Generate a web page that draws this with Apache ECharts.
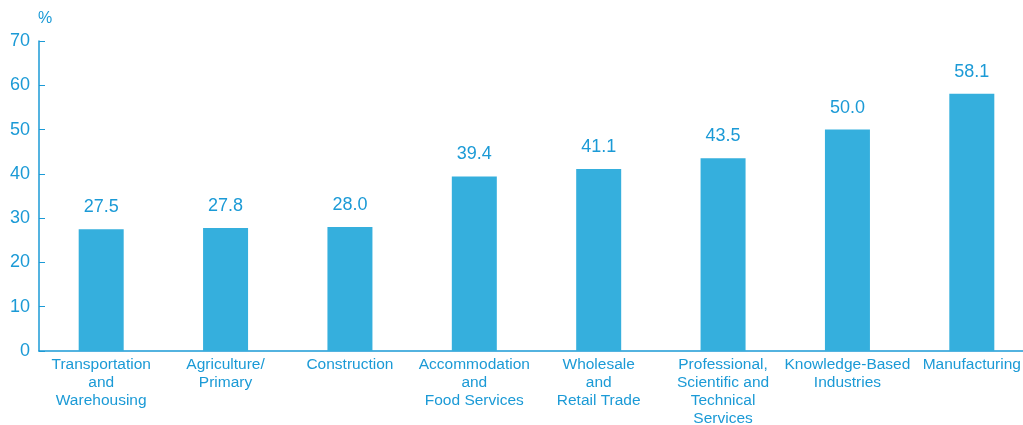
<!DOCTYPE html>
<html>
<head>
<meta charset="utf-8">
<script src="https://cdn.jsdelivr.net/npm/echarts@6/dist/echarts.min.js"></script>
<style>
  html, body { margin: 0; padding: 0; background: #fff; }
  #chart { width: 1023px; height: 425px; }
</style>
</head>
<body>
<div id="chart"></div>
<script>
// 行业类别
const categories = [
  "Transportation\nand\nWarehousing",
  "Agriculture/\nPrimary",
  "Construction",
  "Accommodation\nand\nFood Services",
  "Wholesale\nand\nRetail Trade",
  "Professional,\nScientific and\nTechnical\nServices",
  "Knowledge-Based\nIndustries",
  "Manufacturing"
];
// 百分比
const values = [27.5, 27.8, 28.0, 39.4, 41.1, 43.5, 50.0, 58.1];

const blue = "#1b9ad6";
const barColor = "#35afdd";
const font = "Liberation Sans, Arial, sans-serif";

const chart = echarts.init(document.getElementById("chart"), null, { renderer: "canvas" });

chart.setOption({
  animation: false,
  backgroundColor: "#fff",
  // v6 默认会把轴标签收进画布，这里关掉
  grid: { left: 39, width: 995, top: 41, height: 310, containLabel: false, outerBoundsMode: "none" },
  xAxis: {
    type: "category",
    data: categories,
    axisLine: { lineStyle: { color: blue, width: 1.5 } },
    axisTick: { inside: true, length: 7, lineStyle: { color: blue } },
    axisLabel: {
      color: blue, fontSize: 15.5, fontFamily: font, lineHeight: 17.8,
      margin: 5, interval: 0
    }
  },
  yAxis: {
    type: "value",
    min: 0, max: 70, interval: 10,
    name: "%",
    nameGap: 14,
    nameTextStyle: { color: blue, fontSize: 16, fontFamily: font, align: "left", padding: [0, 0, 0, -1] },
    splitLine: { show: false },
    axisLine: { show: true, lineStyle: { color: blue, width: 1.5 } },
    axisTick: { show: true, inside: true, length: 6, lineStyle: { color: blue } },
    axisLabel: { color: blue, fontSize: 18, fontFamily: font, margin: 9 }
  },
  series: [{
    type: "bar",
    data: values,
    barWidth: 45,
    itemStyle: { color: barColor },
    label: {
      show: true, position: "top", distance: 13,
      color: blue, fontSize: 18, fontFamily: font,
      formatter: p => p.value.toFixed(1)
    }
  }]
});
</script>
</body>
</html>
